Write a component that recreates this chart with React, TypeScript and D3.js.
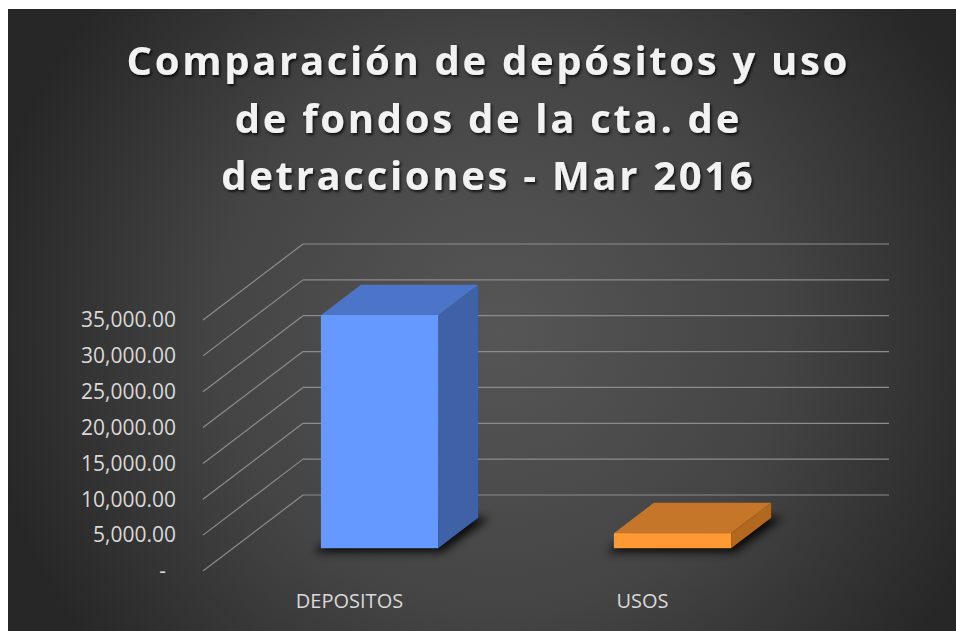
import React from "react";
import * as d3 from "d3";

const categories = ["DEPOSITOS", "USOS"];
const values = [32500, 2100];
const yTicks = [0, 5000, 10000, 15000, 20000, 25000, 30000, 35000];
const titleLines = [
  "Comparación de depósitos y uso",
  "de fondos de la cta. de",
  "detracciones - Mar 2016",
];
const frontColors = ["#6699FF", "#FF9933"];
const topColors = ["#4C74C8", "#C67628"];
const sideColors = ["#3F62A6", "#B2691F"];

export default function App() {
  const W = 956;
  const H = 631;
  const floorLeft = 203;
  const floorRight = 789;
  const depthX = 100;
  const depthY = -76;
  const t0 = 0.3;
  const t1 = 0.7;

  const x = d3.scaleBand<string>().domain(categories).range([floorLeft, floorRight]).padding(0);
  const y = d3.scaleLinear().domain([0, 35000]).range([571, 320]);
  const fmt = (v: number) => (v === 0 ? "-" : d3.format(",.2f")(v));
  const barW = x.bandwidth() * 0.4;
  const ddx = depthX * (t1 - t0);
  const ddy = depthY * (t1 - t0);

  const font = "'Open Sans', sans-serif";
  const ls = 2.7;

  return (
    <svg
      width={W}
      height={H}
      style={{ position: "absolute", left: 0, top: 0, display: "block" }}
    >
      <defs>
        <radialGradient id="bg" gradientUnits="userSpaceOnUse" cx={500} cy={330} r={520}>
          <stop offset="0" stopColor="#565656" />
          <stop offset="0.55" stopColor="#444444" />
          <stop offset="1" stopColor="#272727" />
        </radialGradient>
        <filter id="shadow" x="-50%" y="-50%" width="200%" height="200%">
          <feGaussianBlur stdDeviation="4" />
        </filter>
        <filter id="tshadow" x="-10%" y="-30%" width="120%" height="160%">
          <feDropShadow dx="1.5" dy="2" stdDeviation="1.5" floodColor="#000" floodOpacity="0.8" />
        </filter>
      </defs>
      <rect x={0} y={0} width={W} height={H} fill="#ffffff" />
      <rect x={8} y={9} width={W - 8} height={H - 9} fill="url(#bg)" />

      <g filter="url(#tshadow)">
        {titleLines.map((line, i) => (
          <text
            key={i}
            x={487 + ls / 2}
            y={75 + i * 57.5}
            textAnchor="middle"
            fontFamily={font}
            fontWeight={700}
            fontSize={40}
            letterSpacing={ls}
            fill="#F2F2F2"
          >
            {line}
          </text>
        ))}
      </g>

      {/* gridlines: side wall diagonals and back wall horizontals */}
      {yTicks.map((t) => (
        <g key={t}>
          <line
            x1={floorLeft}
            y1={y(t)}
            x2={floorLeft + depthX}
            y2={y(t) + depthY}
            stroke="#8C8C8C"
            strokeWidth={1.2}
          />
          <line
            x1={floorLeft + depthX}
            y1={y(t) + depthY}
            x2={floorRight + depthX}
            y2={y(t) + depthY}
            stroke="#8C8C8C"
            strokeWidth={1.2}
          />
          <text
            x={t === 0 ? 166 : 176}
            y={y(t)}
            dy="0.35em"
            textAnchor="end"
            fontFamily={font}
            fontSize={21}
            fill="#D9D9D9"
          >
            {fmt(t)}
          </text>
        </g>
      ))}

      {/* bars */}
      {categories.map((c, i) => {
        const bx0 = (x(c) as number) + (x.bandwidth() - barW) / 2 + depthX * t0;
        const bx1 = bx0 + barW;
        const yb = y(0) + depthY * t0;
        const yt = y(values[i]) + depthY * t0;
        const shadow = `M${bx0 - 8},${yb + 4} L${bx1 + 4},${yb + 4} L${bx1 + ddx + 12},${yb + ddy} L${bx0 + ddx},${yb + ddy} Z`;
        const top = `M${bx0},${yt} L${bx1},${yt} L${bx1 + ddx},${yt + ddy} L${bx0 + ddx},${yt + ddy} Z`;
        const side = `M${bx1},${yt} L${bx1 + ddx},${yt + ddy} L${bx1 + ddx},${yb + ddy} L${bx1},${yb} Z`;
        return (
          <g key={c}>
            <path d={shadow} fill="#000" opacity={0.85} filter="url(#shadow)" />
            <path d={side} fill={sideColors[i]} />
            <path d={top} fill={topColors[i]} />
            <rect x={bx0} y={yt} width={barW} height={yb - yt} fill={frontColors[i]} />
          </g>
        );
      })}

      {categories.map((c) => (
        <text
          key={c}
          x={(x(c) as number) + x.bandwidth() / 2}
          y={601}
          dy="0.35em"
          textAnchor="middle"
          fontFamily={font}
          fontSize={20}
          fill="#D9D9D9"
        >
          {c}
        </text>
      ))}
    </svg>
  );
}
